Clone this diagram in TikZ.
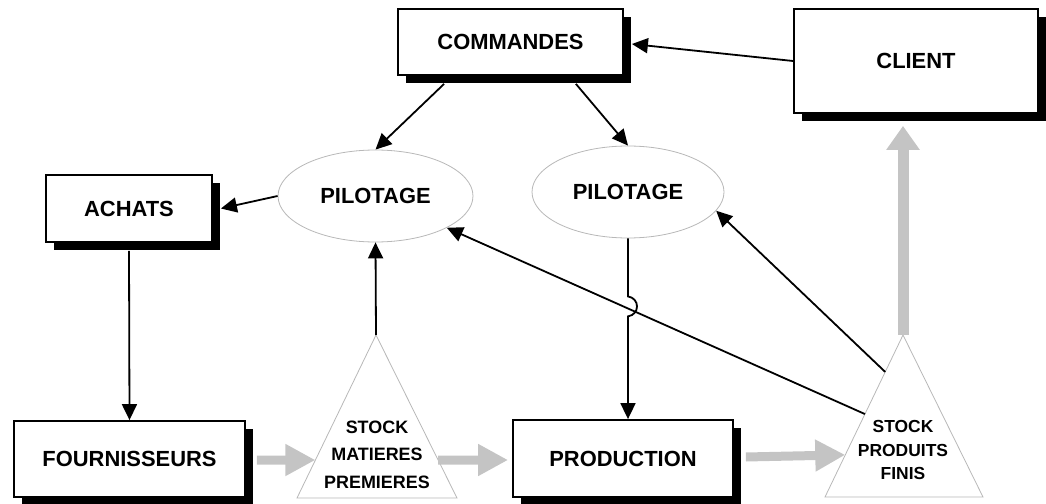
\documentclass[tikz,border=0pt]{standalone}
\usepackage{fontspec}
\setmainfont{Liberation Sans}
\usetikzlibrary{arrows.meta,shadows,shapes.geometric,calc}
\definecolor{flowgrey}{HTML}{C4C4C4}
\definecolor{edgegrey}{HTML}{B8B8B8}
\begin{document}
\begin{tikzpicture}[x=1bp,y=-1bp,
  boxnode/.style={draw=black, line width=1.8bp, fill=white, inner sep=0pt,
    font=\fontsize{22}{26}\selectfont\bfseries,
    drop shadow={shadow xshift=8bp, shadow yshift=-8bp, fill=black, opacity=1}},
  pilot/.style={ellipse, draw=edgegrey, line width=0.8bp, fill=white, inner sep=0pt,
    font=\fontsize{22}{26}\selectfont\bfseries},
  stockA/.style={align=center, inner sep=0pt, font=\fontsize{18}{27.5}\selectfont\bfseries},
  stockB/.style={align=center, inner sep=0pt, font=\fontsize{17.5}{24}\selectfont\bfseries},
  tri/.style={draw=edgegrey, line width=0.8bp, fill=white},
  ctrl/.style={line width=1.8bp, -{Triangle[length=16bp,width=15bp]}},
  flow/.style={draw=flowgrey, line width=9bp, -{Triangle[length=30bp,width=30bp]}},
  flowup/.style={draw=flowgrey, line width=11bp, -{Triangle[length=24bp,width=32bp]}},
]
\useasboundingbox (0,0) rectangle (1046,504);

% boxes
\node[boxnode, minimum width=225bp, minimum height=66bp] (cmd) at (510.5,42) {COMMANDES};
\node[boxnode, minimum width=244bp, minimum height=104bp] (cli) at (916,61) {CLIENT};
\node[boxnode, minimum width=166bp, minimum height=67bp] (ach) at (129,208.5) {ACHATS};
\node[boxnode, minimum width=231bp, minimum height=76bp] (four) at (129.5,459) {FOURNISSEURS};
\node[boxnode, minimum width=220bp, minimum height=77bp] (prod) at (623,458.5) {PRODUCTION};

% steering ellipses
\node[pilot, minimum width=195bp, minimum height=92bp] (p1) at (375.5,196) {PILOTAGE};
\node[pilot, minimum width=192bp, minimum height=92bp] (p2) at (628,192) {PILOTAGE};

% stock triangles
\coordinate (smA) at (376,335);
\coordinate (smL) at (297,498);
\coordinate (smR) at (457,498);
\draw[tri] (smA) -- (smR) -- (smL) -- cycle;
\node[stockA] (smT) at (377,454.5) {STOCK\\MATIERES\\PREMIERES};

\coordinate (spA) at (903,335);
\coordinate (spL) at (825,497);
\coordinate (spR) at (983,497);
\draw[tri] (spA) -- (spR) -- (spL) -- cycle;
\node[stockB] (spT) at (903,450) {STOCK\\PRODUITS\\FINIS};

% points on the triangle edges
\coordinate (smIn) at ($(smA)!0.767!(smL)$);
\coordinate (smOut) at ($(smA)!0.767!(smR)$);
\coordinate (spIn) at ($(spA)!0.74!(spL)$);
\coordinate (spToP1) at ($(spA)!0.488!(spL)$);
\coordinate (spToP2) at ($(spA)!0.228!(spL)$);
\coordinate (cliTip) at ($(cli.south)+(-13,12)$);

% material flows
\draw[flow] ($(four.east)+(11,1)$) -- (smIn);
\draw[flow] (smOut) -- ($(prod.west)+(-4,1.5)$);
\draw[flow] ($(prod.east)+(12,-1.5)$) -- (spIn);
\draw[flowup] (spA) -- (cliTip);

% information flows
\draw[ctrl] (cli.west) -- ($(cmd.east)+(8,2)$);
\draw[ctrl] ($(cmd.south west)+(47,8)$) -- (p1.north);
\draw[ctrl] ($(cmd.south east)+(-48,8)$) -- (p2.north);
\draw[ctrl] (p1.west) -- ($(ach.east)+(8,0)$);
\draw[ctrl] ($(ach.south)+(0,8)$) -- (four.north);
\draw[ctrl] (smA) -- (p1.south);
\draw[ctrl] (spToP1) -- (p1);
\draw[ctrl] (spToP2) -- (p2.-12.5);

% vertical link with a hop over the crossing line
\coordinate (hopA) at ($(p2.south)+(0,58)$);
\coordinate (hopB) at ($(p2.south)+(0,78)$);
\draw[ctrl] (p2.south) -- (hopA) .. controls ($(hopA)+(12,2)$) and ($(hopB)+(12,-2)$) .. (hopB) -- (p2.south |- prod.north);
\end{tikzpicture}
\end{document}
